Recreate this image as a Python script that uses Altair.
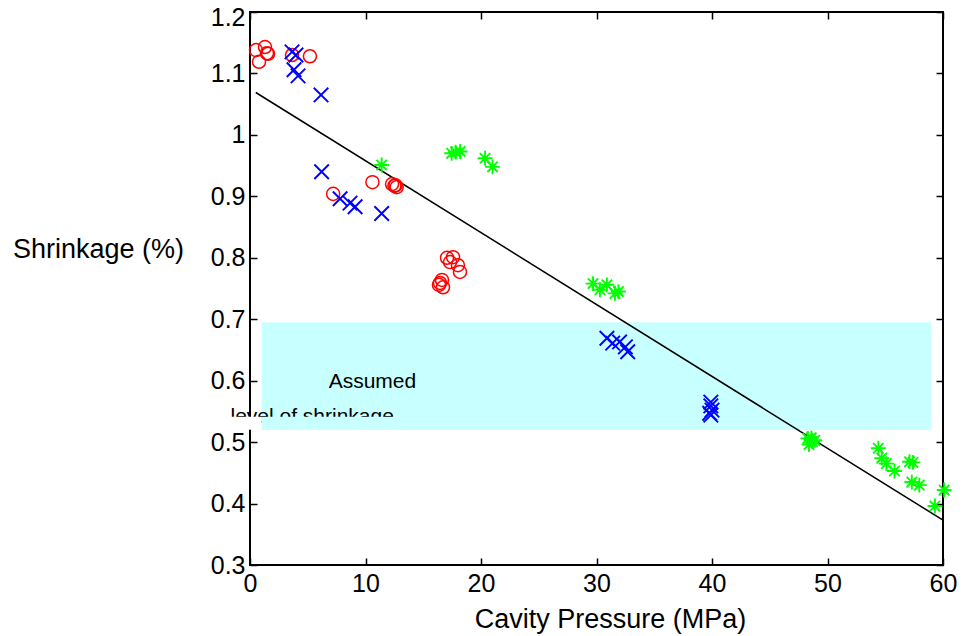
import altair as alt
import pandas as pd

FONT = "Liberation Sans"

# ---- data ----
red_x = [0.52, 0.78, 1.30, 1.47, 1.56, 3.64, 5.19, 7.2, 10.6, 12.3, 12.5, 12.7, 12.6,
         17.06, 17.58, 17.32, 18.0, 18.18, 16.45, 16.62, 16.71, 16.36]
red_y = [1.138, 1.119, 1.143, 1.133, 1.132, 1.130, 1.128, 0.904, 0.923, 0.920, 0.917, 0.915, 0.918,
         0.800, 0.801, 0.793, 0.788, 0.777, 0.759, 0.764, 0.752, 0.756]

blue_x = [3.64, 3.98, 3.81, 4.16, 6.15, 6.2, 7.8, 8.66, 9.1, 11.4,
          30.9, 31.4, 32.0, 32.5, 32.7, 39.9, 39.9, 40.0, 39.8, 39.9]
blue_y = [1.135, 1.130, 1.106, 1.096, 1.065, 0.940, 0.896, 0.889, 0.883, 0.872,
          0.669, 0.661, 0.663, 0.655, 0.647, 0.565, 0.559, 0.552, 0.547, 0.544]

green_x = [11.4, 17.46, 17.8, 18.2, 20.35, 21.0, 29.7, 30.3, 30.9, 31.6, 31.9,
           48.3, 48.7, 48.6, 48.4, 48.9, 54.4, 54.7, 55.1, 55.8, 57.1, 57.4, 57.3, 57.95, 59.3, 60.1]
green_y = [0.951, 0.970, 0.972, 0.973, 0.962, 0.948, 0.758, 0.748, 0.756, 0.742, 0.745,
           0.506, 0.501, 0.507, 0.496, 0.503, 0.490, 0.474, 0.465, 0.453, 0.468, 0.467, 0.435, 0.430, 0.396, 0.422]

fit_x = [0.5, 60.0]
fit_y = [1.069, 0.373]

band_x = [1.0, 59.0]
band_y = [0.52, 0.695]

# clipped second line of the annotation: hidden strip below the text cut
cut_y = [0.52, 0.5413]
cut_white_x = [-2.3, 1.0]

x_ticks = [0, 10, 20, 30, 40, 50, 60]
y_ticks = [0.3, 0.4, 0.5, 0.6, 0.7, 0.8, 0.9, 1.0, 1.1, 1.2]

ann1 = {"text": "Assumed", "x": 10.6, "y": 0.588}
ann2 = {"text": "level of shrinkage", "x": -1.69, "y": 0.531}

# ---- frames ----
red_df = pd.DataFrame({"x": red_x, "y": red_y})
blue_df = pd.DataFrame({"x": blue_x, "y": blue_y})
green_df = pd.DataFrame({"x": green_x, "y": green_y})
fit_df = pd.DataFrame({"x": fit_x, "y": fit_y})
band_df = pd.DataFrame({"x1": [band_x[0]], "x2": [band_x[1]], "y1": [band_y[0]], "y2": [band_y[1]]})
cut_cyan_df = pd.DataFrame({"x1": [band_x[0]], "x2": [band_x[1]], "y1": [cut_y[0]], "y2": [cut_y[1]]})
cut_white_df = pd.DataFrame({"x1": [cut_white_x[0]], "x2": [cut_white_x[1]], "y1": [cut_y[0]], "y2": [cut_y[1]]})
ann1_df = pd.DataFrame([ann1])
ann2_df = pd.DataFrame([ann2])

XS = alt.Scale(domain=[0, 60], nice=False, zero=False)
YS = alt.Scale(domain=[0.3, 1.2], nice=False, zero=False)

tick_common = dict(domain=False, grid=False, tickColor="black", tickWidth=1.5,
                   tickSize=7, offset=-7, labelFlush=False, labelOverlap=False)

bottom_axis = alt.Axis(orient="bottom", values=x_ticks, format="d", labelFont=FONT,
                       labelFontSize=25, labelColor="black", labelPadding=6,
                       title="Cavity Pressure (MPa)", titleFont=FONT, titleFontSize=27,
                       titleFontWeight="normal", titleColor="black",
                       titleX=360, titleY=69, titleAlign="center",
                       titleBaseline="alphabetic", **tick_common)
left_axis = alt.Axis(orient="left", values=y_ticks, format="~g", labelFont=FONT,
                     labelFontSize=25, labelColor="black", labelPadding=5,
                     title="Shrinkage (%)", titleFont=FONT, titleFontSize=27,
                     titleFontWeight="normal", titleColor="black", titleAngle=0,
                     titleX=-159, titleY=245, titleAlign="center",
                     titleBaseline="alphabetic",
                     labelOffset={"condition": {"test": "datum.value > 1.15", "value": 5}, "value": 0},
                     **tick_common)
top_axis = alt.Axis(orient="top", values=x_ticks, labels=False, title=None, **tick_common)
right_axis = alt.Axis(orient="right", values=y_ticks, labels=False, title=None, **tick_common)

band = alt.Chart(band_df).mark_rect(color="#c8ffff").encode(
    x=alt.X("x1:Q", scale=XS, axis=bottom_axis), x2="x2:Q",
    y=alt.Y("y1:Q", scale=YS, axis=left_axis), y2="y2:Q")

t1 = alt.Chart(ann1_df).mark_text(font=FONT, fontSize=21, align="center",
                                  baseline="alphabetic", color="black").encode(
    x=alt.X("x:Q", scale=XS, axis=None), y=alt.Y("y:Q", scale=YS, axis=None), text="text:N")
t2 = alt.Chart(ann2_df).mark_text(font=FONT, fontSize=21, align="left",
                                  baseline="alphabetic", color="black").encode(
    x=alt.X("x:Q", scale=XS, axis=None), y=alt.Y("y:Q", scale=YS, axis=None), text="text:N")

cover_c = alt.Chart(cut_cyan_df).mark_rect(color="#c8ffff").encode(
    x=alt.X("x1:Q", scale=XS, axis=None), x2="x2:Q",
    y=alt.Y("y1:Q", scale=YS, axis=None), y2="y2:Q")
cover_w = alt.Chart(cut_white_df).mark_rect(color="white", clip=False).encode(
    x=alt.X("x1:Q", scale=XS, axis=None), x2="x2:Q",
    y=alt.Y("y1:Q", scale=YS, axis=None), y2="y2:Q")

fit = alt.Chart(fit_df).mark_line(color="black", strokeWidth=1.5).encode(
    x=alt.X("x:Q", scale=XS, axis=top_axis), y=alt.Y("y:Q", scale=YS, axis=right_axis))

X_PATH = "M-1,-1L1,1M-1,1L1,-1"
AST_PATH = "M-1,0L1,0M0,-1L0,1M-0.7,-0.7L0.7,0.7M-0.7,0.7L0.7,-0.7"

red = alt.Chart(red_df).mark_point(shape="circle", size=170, filled=False,
                                   color="#ff0000", strokeWidth=1.5, opacity=1).encode(
    x=alt.X("x:Q", scale=XS, axis=None), y=alt.Y("y:Q", scale=YS, axis=None))
blue = alt.Chart(blue_df).mark_point(shape=X_PATH, size=210, filled=False,
                                     color="#0000ff", strokeWidth=1.9, opacity=1).encode(
    x=alt.X("x:Q", scale=XS, axis=None), y=alt.Y("y:Q", scale=YS, axis=None))
green = alt.Chart(green_df).mark_point(shape=AST_PATH, size=220, filled=False,
                                       color="#00ff00", strokeWidth=1.9, opacity=1).encode(
    x=alt.X("x:Q", scale=XS, axis=None), y=alt.Y("y:Q", scale=YS, axis=None))

chart = alt.layer(band, t1, t2, cover_c, cover_w, fit, red, blue, green).resolve_axis(
    x="independent", y="independent"
).properties(
    width=693, height=553,
    autosize=alt.AutoSizeParams(type="none"),
    padding={"left": 250, "top": 12, "right": 21, "bottom": 71},
    background="white",
).configure_view(stroke="black", strokeWidth=2)

chart.save("out.html", embed_options={"renderer": "svg", "actions": False})
